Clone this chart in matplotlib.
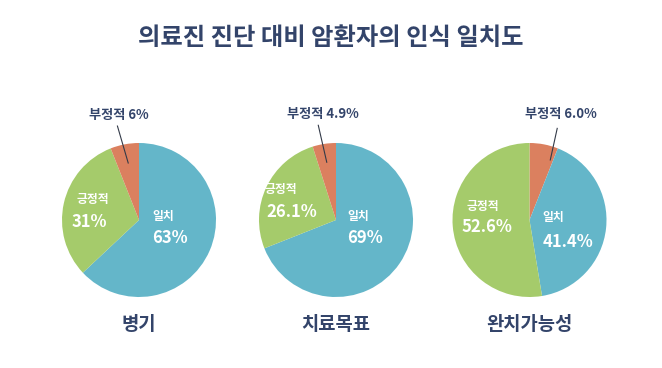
import matplotlib
matplotlib.use('Agg')
import matplotlib.pyplot as plt

plt.rcParams['font.family'] = ['Noto Sans CJK KR', 'DejaVu Sans']

# 데이터
title = '의료진 진단 대비 암환자의 인식 일치도'
groups = ['병기', '치료목표', '완치가능성']
cats = ['일치', '긍정적', '부정적']
match_vals = [63, 69, 41.4]
pos_vals = [31, 26.1, 52.6]
neg_vals = [6, 4.9, 6.0]
match_txt = ['63%', '69%', '41.4%']
pos_txt = ['31%', '26.1%', '52.6%']
neg_txt = ['6%', '4.9%', '6.0%']

colors = {'일치': '#64B6C9', '긍정적': '#A5CB6B', '부정적': '#DB805F'}
navy = '#33446A'

W, H = 662, 368
fig = plt.figure(figsize=(W / 100, H / 100), dpi=100)
fig.patch.set_facecolor('white')

centers_x = [139, 336, 529.5]
cy = 220
r = 77

# 라벨 위치 (반지름 단위, 파이 중심 기준)
lbl = [
    dict(m=(0.31, 0.04), mv=(0.40, -0.23), p=(-0.60, 0.26), pv=(-0.65, -0.03),
         n=(-0.26, 1.36), l0=(-0.28, 1.22), l1=(-0.14, 0.74)),
    dict(m=(0.29, 0.04), mv=(0.38, -0.23), p=(-0.72, 0.39), pv=(-0.58, 0.10),
         n=(-0.17, 1.38), l0=(-0.23, 1.23), l1=(-0.12, 0.75)),
    dict(m=(0.31, 0.03), mv=(0.50, -0.29), p=(-0.60, 0.17), pv=(-0.55, -0.09),
         n=(0.41, 1.38), l0=(0.36, 1.19), l1=(0.27, 0.78)),
]

for i, g in enumerate(groups):
    cx = centers_x[i]
    ax = fig.add_axes([(cx - 2 * r) / W, (H - cy - 2 * r) / H, 4 * r / W, 4 * r / H])
    vals = [match_vals[i], pos_vals[i], neg_vals[i]]
    cols = [colors[c] for c in cats]
    if i == 2:
        # 완치가능성은 부정적이 먼저 시작
        vals = [neg_vals[i], match_vals[i], pos_vals[i]]
        cols = [colors['부정적'], colors['일치'], colors['긍정적']]
    ax.pie(vals, colors=cols, startangle=90, counterclock=False, radius=1,
           wedgeprops=dict(linewidth=0))
    ax.set_xlim(-2, 2)
    ax.set_ylim(-2, 2)
    ax.set_aspect('equal')
    ax.axis('off')

    d = lbl[i]
    ax.text(*d['m'], '일치', color='white', fontsize=8.5, fontweight='bold', ha='center', va='center')
    ax.text(*d['mv'], match_txt[i], color='white', fontsize=12, fontweight='bold', ha='center', va='center')
    ax.text(*d['p'], '긍정적', color='white', fontsize=8.5, fontweight='bold', ha='center', va='center')
    ax.text(*d['pv'], pos_txt[i], color='white', fontsize=12, fontweight='bold', ha='center', va='center')
    ax.text(*d['n'], '부정적 ' + neg_txt[i], color=navy, fontsize=9.5, fontweight='bold', ha='center', va='center')
    ax.plot([d['l0'][0], d['l1'][0]], [d['l0'][1], d['l1'][1]], color='#333a48', lw=0.8)

    fig.text(cx / W, 1 - 325 / H, g, color=navy, fontsize=13.5, fontweight='bold', ha='center', va='center')

fig.text(331 / W, 1 - 38 / H, title, color=navy, fontsize=17.5, fontweight='bold', ha='center', va='center')

fig.savefig('out.png', dpi=100, facecolor='white')
